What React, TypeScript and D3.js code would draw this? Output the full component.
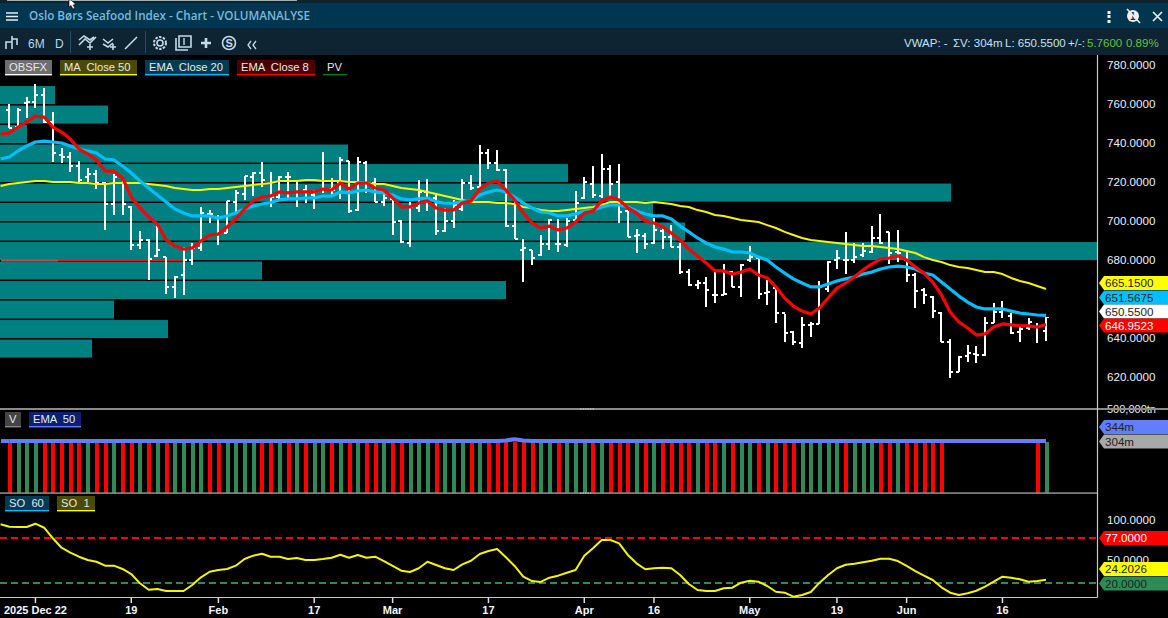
import React from "react";
import * as d3 from "d3";

// ---------- data ----------
const highs = [760,758,763.6,770.3,768.2,755.9,737.4,735.4,730.8,727.2,726.2,720,724.1,722.6,707.7,694.9,690.8,697.4,681.5,671.8,686.7,688.7,707.2,705.6,703.1,710.3,715.9,723.1,725.1,730.3,725.1,723.1,725.1,720,718.5,715.9,735.4,722,732.8,730.8,732.8,730.8,722,715.9,712.3,700.5,709.8,721,721.5,713.3,706.7,710.8,721.5,723.6,739,736.9,736.4,726.7,709.8,690.8,685.1,692.8,701,701,701.5,715.4,722.6,728.2,734.4,728.7,729.2,705.1,695.9,693.8,701.5,696.9,697.9,688.7,675.4,669.7,671.3,674.4,677.9,674.4,677.9,687.2,681,669.7,666.2,652.3,643.6,650.8,648.2,669.2,679.5,685.1,694.4,688.7,688.7,697.4,703.6,694.4,695.4,684.1,673.3,665.6,661.5,653.3,639.5,630.8,636.4,635.9,650.8,657.9,659,652.8,646.7,650.3,647.7,650.8];
const lows = [747.7,748.2,752.8,758,750.3,730.3,729.7,725.1,720,720,716.4,695.4,703.1,703.1,685.1,685.6,669.7,681.5,662.6,660.5,662.1,677.4,684.6,699,687.7,693.8,704.1,710.8,712.8,717.4,707.2,710.8,711.3,707.2,709.2,706.2,714.4,712.3,711.3,704.1,705.1,714.4,709.8,707.7,692.8,688.7,686.7,704.6,705.1,692.8,694.4,696.4,705.1,715.9,716.9,726.7,725.6,696.9,690.8,668.7,677.4,682.1,685.1,684.1,686.7,700.5,711.3,711.8,711.8,712.3,699,691.8,683.6,685.6,688.2,685.6,686.7,672.8,666.7,665.1,655.9,657.9,662.1,666.2,661,679,660,656.9,647.7,638,636.4,634.9,640.5,647.2,663.6,675.4,672.8,678.5,681.5,683.6,688.2,677.9,679,668.7,655.4,657.4,650.3,638,619.5,622.6,627.7,627.2,630.8,647.7,650.3,642.1,638,644.1,637.4,638.5];
const opens = [757,748.2,760.5,761,764.6,750.8,733.8,732.8,728.2,722.6,724.1,719.5,708.7,722.6,707.2,687.7,690.3,682.1,681.5,666.2,672.3,680,686.2,703.6,701.5,693.8,709.8,713.8,722.6,724.6,712.3,712.3,722.6,714.9,715.9,713.3,715.9,716.4,719.5,730.8,705.6,729.7,719.5,709.8,711.3,700,688.7,706.7,714.9,711.8,694.9,700,706.2,719.5,717.4,734.9,729.7,726.2,697.4,685.1,685.1,682.6,688.2,688.2,687.7,700.5,711.8,719,712.8,726.7,720,705.1,692.3,692.3,688.7,694.9,691.8,686.7,673.8,667.2,668.2,662.1,662.1,673.8,666.2,680,681,663.1,665.6,652.8,643.1,637.4,646.7,647.2,665.1,680,680,680,682.6,684.1,691.3,694.4,684.1,680,672.3,664.6,661,652.8,638,622.6,630.8,631.8,631.3,647.7,653.3,651.3,643.1,645.1,645.6,643.6];
const closes = [747.7,757,761,764.6,750.8,734.9,732.8,728.2,721,724.1,719.5,708.7,722.6,708.7,687.7,690.3,680.5,685.1,666.2,671.3,680,686.2,704.1,703.6,693.8,710.3,714.4,723.1,724.6,721,712.3,722.6,722.6,714.9,714.9,714.9,716.4,715.9,731.3,705.1,730.3,719.5,709.8,711.8,699.5,689.2,707.2,714.9,711.8,694.9,700,708.2,719.5,716.9,734.9,729.7,726.2,697.4,690.8,686.2,681,688.2,700.5,688.2,700,709.2,720,713.3,726.7,719,704.6,691.8,692.8,688.2,695.4,691.8,686.7,673.8,667.2,668.2,664.6,662.1,662.6,666.2,677.4,681.5,662.6,663.6,652.8,642.6,638,646.7,647.2,666.2,679,681,680,681.5,684.6,691.3,688.7,683.6,683.6,672.3,664.1,662.1,653.8,638,622.6,630.3,632.3,631.3,647.7,653.3,654.9,642.6,644.6,648.2,645.6,650.55];

// the three overlays start one step before the first bar, at the chart's left edge
const ma50 = [717.9,719,719.5,720,720.5,720.5,720,720,720,719.5,719.5,719,719,719.5,719.5,719.5,719.5,719,718.5,717.9,716.9,716.4,715.9,715.9,716.4,716.4,716.9,717.4,717.9,718.5,719,719.5,720.5,720.5,720.5,721,721,720.5,720.5,720.5,720,720,719.5,719,719,717.9,716.9,716.4,715.9,714.9,713.8,712.8,711.8,710.8,709.8,709.8,709.8,709.2,709.2,708.7,707.2,706.7,705.6,705.1,705.1,705.6,706.2,706.7,707.2,708.2,709.8,709.8,709.8,709.8,709.2,709.8,709.2,708.7,707.7,707.2,705.6,704.6,703.1,702.6,701.5,700.5,700,699.5,697.9,696.4,694.4,692.8,691.3,690.3,689.7,689.2,688.7,688.2,687.7,687.2,687.2,686.7,686.2,685.6,684.6,683.6,681.5,680,679,677.4,676.4,675.9,674.9,673.8,673.8,672.8,670.8,669.2,668.2,666.7,665.15];
const ema20 = [731.8,732.8,735.9,738.5,740.5,741,740.5,740,738.5,736.9,735.9,734.9,731.8,731.3,728.2,724.6,720.5,716.9,713.3,709.8,706.2,704.1,702.6,702.6,702.6,701.5,702.6,704.1,706.2,707.7,708.7,709.5,710.8,711.3,711.3,711.8,711.8,712.8,712.8,714.9,714.4,715.4,715.9,714.9,714.4,713.3,711.3,710.8,711.3,711.8,709.8,709.2,709.2,709.8,710.3,713.3,714.9,715.9,714.9,712.3,709.2,706.7,704.6,704.1,702.6,702.6,703.6,705.1,705.6,707.2,708.2,708.2,707.2,705.1,703.6,702.6,702.6,701,697.4,694.4,691.3,688.7,686.7,685.6,684.1,684.1,683.6,681.5,680,676.4,673.3,670.3,668.2,666.2,666.2,667.7,669.2,670.3,671.3,672.8,673.8,675.4,676.4,676.9,676.4,675.4,673.3,672.3,668.7,665.1,661.5,658.4,655.9,654.9,654.9,654.9,653.8,652.8,652.3,651.8,651.57];
const ema8 = [744.6,745.1,748.2,750.8,753.8,753.3,748.2,745.6,742,736.9,734.4,731.3,725.6,725.6,722,712.3,706.7,702.1,698.5,690.3,687.2,685.6,686.2,689.7,692.8,693.3,696.9,701,706.2,710.3,712.3,712.8,714.9,714.4,714.9,714.9,714.9,716.4,715.9,719.5,716.4,719.5,719.5,716.9,715.9,711.8,707.2,707.2,709.2,710.3,706.7,705.6,705.6,709.2,710.3,716.4,719.5,720.5,715.9,710.8,704.1,699,696.4,697.4,695.4,696.4,699.5,704.1,705.1,710.3,712.3,710.8,706.7,704.1,700,699,696.9,693.8,690.3,685.6,682.1,678.5,674.4,674.4,672.8,673.8,675.4,672.3,670.8,666.2,660.5,656.4,653.8,652.3,655.4,660.5,665.6,668.2,671.3,674.9,677.9,680.5,681,682.1,680,676.4,673.3,668.7,662.1,653.3,648.2,645.1,641.5,642.1,645.6,647.2,646.7,646.2,646.2,645.6,646.95];
const so1 = [94.5,91.5,91.1,91.1,95.3,90.2,76.8,64.8,58.5,53.4,49.2,47,42,42,37.8,31.4,19.6,11.5,12.4,9.8,9.8,9.8,17.4,27.2,34.3,36.5,37.8,42,50.5,54.7,57.2,53.4,53.4,50.5,51.7,49.2,49.2,50.5,52.1,55.9,52.1,55.6,52.1,53.4,47.9,41.6,35.6,34,38.7,47,42.9,38.7,36.5,43.7,48.3,56.8,60.6,63.2,52.6,41.6,28,22.5,21.3,26.7,29.3,33.1,36.5,54.7,64.1,74.6,74.6,70.4,55.6,45,37.4,38.7,39.4,38.7,30.2,18.7,11.1,9.8,9.8,13.3,14,20.4,22.9,21.6,16.2,8.9,7.7,2.6,4.8,8.6,20.4,30.2,38.7,43.2,44.5,46.3,48.3,50.9,50.9,47.9,41.6,35.2,29.3,23.8,14.5,7.7,4.8,6.9,10.2,15.3,21.6,28,26.7,24.7,21.6,22.5,24.2];

// R = down day, G = up day, - = no volume bar drawn
const volumeSides = "RGGGRRRRRGRRGRRGRGRGGGGRRGGGGRRGRGRGGRGRGRRGRRGGGRGGGRGRRRRRRGGRGGGRGRRRGRGRRRRGRRGRGGRGRRRGGGGGRGGGRRGRRRRR----------RG";
const volumeLevel = 304;
const volumeEma = 344;
const volumeEmaPeak: Record<number, number> = { 57: 400, 58: 510, 59: 400 };

// volume-by-price: one bucket per 10 index points
const profileTop = 769.2;
const profileStep = 10;
const profileAmounts = [55, 108, 27, 348, 568, 951, 653, 685, 1098, 262, 506, 114, 168, 92];

const priceTicks = [780, 760, 740, 720, 700, 680, 640, 620];
const dateTicks: [string, number][] = [["2025 Dec 22", 3], ["19", 14], ["Feb", 24], ["17", 35], ["Mar", 44], ["17", 55], ["Apr", 66], ["16", 74], ["May", 85], ["19", 95], ["Jun", 103], ["16", 114]];
const priceTags: [string, string, string, number][] = [["665.1500", "#ffff00", "#222", 283], ["651.5675", "#00bfff", "#222", 297.5], ["650.5500", "#ffffff", "#222", 311.5], ["646.9523", "#ff0000", "#fff", 325.5]];
const statusLabels: [string, number, string][] = [["VWAP: -", 904, "#c8e0f0"], ["ΣV: 304m", 953, "#c8e0f0"], ["L: 650.5500", 1005, "#c8e0f0"], ["+/-:", 1068, "#c8e0f0"], ["5.7600", 1087, "#66c23c"], ["0.89%", 1126, "#66c23c"]];
const chips: [string, number, number, number, string, string][] = [
  ["OBSFX", 5, 52, 60, "#6e6e6e", "#ffffff"],
  ["MA  Close 50", 60, 137, 60, "#4a4a00", "#ffff00"],
  ["EMA  Close 20", 145, 229, 60, "#003b55", "#00bfff"],
  ["EMA  Close 8", 237, 315, 60, "#4a0000", "#ff0000"],
  ["PV", 323, 347, 60, "#000000", "#0a7a0a"],
  ["V", 5, 21, 412, "#444444", "#888888"],
  ["EMA  50", 29, 81, 412, "#0a2070", "#5f7fff"],
  ["SO  60", 5, 49, 496, "#003b55", "#00bfff"],
  ["SO  1", 57, 95, 496, "#4a4a00", "#ffff00"],
];

const W = 1168, H = 618, AXIS = 1097.5;
const x = d3.scaleLinear().domain([0, 119]).range([9.3, 1046]);
const y = d3.scaleLinear().domain([780, 620]).range([65, 377]);
const yVol = d3.scaleLog().domain([304, 500000]).range([441.6, 409]);
const ySo = d3.scaleLinear().domain([100, 0]).range([520, 598.75]);
const xProfile = d3.scaleLinear().domain([0, 1098]).range([0, 1098]);

const SANS = "'Liberation Sans', Arial, sans-serif";
const priceLine = d3.line<number>().x((_, i) => x(i - 1)).y((d) => y(d));
const soLine = d3.line<number>().x((_, i) => x(i - 1)).y((d) => ySo(d));
const volEmaValues = opens.map((_, i) => volumeEmaPeak[i] ?? volumeEma);
const volEmaLine = d3.line<number>().x((_, i) => x(i)).y((d) => yVol(d));

function Tag({ text, fill, color, cy }: { text: string; fill: string; color: string; cy: number }) {
  const p = d3.path();
  p.moveTo(1099, cy);
  p.lineTo(1104, cy - 7);
  p.lineTo(1168, cy - 7);
  p.lineTo(1168, cy + 7);
  p.lineTo(1104, cy + 7);
  p.closePath();
  return (
    <g>
      <path d={p.toString()} fill={fill} />
      <text x={1105} y={cy + 4.2} fontFamily={SANS} fontSize={11.6} fill={color}>{text}</text>
    </g>
  );
}

function Toolbar() {
  const c = "#c4dbe8";
  return (
    <g fill="none" stroke={c} strokeWidth={1.6}>
      <path d="M6 49V42H12V36M12 36V49M12 39H17V45" />
      <path d="M79 45L85 39L90 43L96 37M79 40L84 36L90 40L94 37" />
      <path d="M87 47H93M90 44V50" />
      <path d="M103 39L108 43L113 39M103 44L108 47L113 43" />
      <path d="M110 47H116M113 44V50" />
      <path d="M125 49L137 37" />
      <circle cx={160} cy={43} r={3} />
      <circle cx={160} cy={43} r={6} strokeDasharray="2.4 1.4" strokeWidth={2} />
      <path d="M176 38V50H188M179 36H191V47H179Z" />
      <path d="M184 38V45" strokeWidth={1.4} />
      <path d="M201 43H211M206 38V48" strokeWidth={2.6} />
      <circle cx={229} cy={43} r={6.5} />
      <text x={225.5} y={47} fontFamily={SANS} fontSize={11} fontWeight={700} fill={c} stroke="none">S</text>
      <path d="M251 41L248 45L251 49M256 41L253 45L256 49" strokeWidth={1.3} />
    </g>
  );
}

export default function App() {
  return (
    <svg width={W} height={H} viewBox={`0 0 ${W} ${H}`} style={{ position: "absolute", left: 0, top: 0, display: "block", background: "#000" }}>
      {/* header */}
      <rect x={0} y={0} width={W} height={3} fill="#11222c" />
      <rect x={7} y={0} width={290} height={1} fill="#9fb0b8" />
      <rect x={0} y={3} width={W} height={25} fill="#00364f" />
      <rect x={0} y={28} width={W} height={27} fill="#0e2433" />
      <path d="M6 13H18M6 16.5H18M6 20H18" stroke="#e8f0f4" strokeWidth={1.6} />
      <text x={29} y={20} fontFamily="'Open Sans', sans-serif" fontSize={12} fontWeight={600} fill="#7fb8d8" textLength={281} lengthAdjust="spacingAndGlyphs">Oslo Børs Seafood Index - Chart - VOLUMANALYSE</text>
      <path d="M69 0L69 7L71 5.5L73 9L75 8L73 5L76 4.5L71 0Z" fill="#fff" stroke="#000" strokeWidth={0.6} />
      <rect x={1107.5} y={11} width={3} height={3} fill="#eee" />
      <rect x={1107.5} y={15} width={3} height={3} fill="#eee" />
      <rect x={1107.5} y={20} width={3} height={3} fill="#eee" />
      <circle cx={1133} cy={16} r={6} fill="#eee" />
      <text x={1130} y={20} fontFamily={SANS} fontSize={10} fontWeight={700} fill="#00364f">1</text>
      <path d="M1127 9L1140 23" stroke="#eee" strokeWidth={1.6} />
      <path d="M1153 12L1162 21M1162 12L1153 21" stroke="#e8eef2" strokeWidth={1.7} />

      {/* toolbar */}
      <Toolbar />
      <text x={28} y={48} fontFamily={SANS} fontSize={12} fill="#b8d8e8">6M</text>
      <text x={55} y={48} fontFamily={SANS} fontSize={12} fill="#b8d8e8">D</text>
      <path d="M70.5 31V53M145.5 31V53" stroke="#1a5070" strokeWidth={1} />
      {statusLabels.map(([label, lx, color]) => (
        <text key={label} x={lx} y={47} fontFamily={SANS} fontSize={11.5} fill={color}>{label}</text>
      ))}

      {/* volume by price */}
      {profileAmounts.map((amount, k) => {
        const top = y(profileTop - profileStep * k);
        return <rect key={k} x={0} y={top} width={xProfile(amount)} height={18} fill="#008080" />;
      })}
      <path d={`M1 ${y(680) + 0.5}H58`} stroke="#c84a4a" strokeWidth={2} />
      <path d={`M58 ${y(680) + 0.3}H183`} stroke="#ff1010" strokeWidth={1.3} />

      {/* OHLC bars */}
      <g stroke="#ffffff" shapeRendering="crispEdges">
        {opens.map((o, i) => {
          const cx = Math.round(x(i));
          return (
            <g key={i}>
              <path d={`M${cx} ${y(highs[i])}V${y(lows[i])}`} strokeWidth={2} />
              <path d={`M${cx - 3} ${y(o)}H${cx}`} strokeWidth={1.4} />
              <path d={`M${cx} ${y(closes[i])}H${cx + 3}`} strokeWidth={1.4} />
            </g>
          );
        })}
      </g>

      {/* overlays */}
      <path d={priceLine(ma50) ?? ""} fill="none" stroke="#f5f500" strokeWidth={2} strokeLinejoin="round" />
      <path d={priceLine(ema20) ?? ""} fill="none" stroke="#00bfff" strokeWidth={3.2} strokeLinejoin="round" />
      <path d={priceLine(ema8) ?? ""} fill="none" stroke="#ff0000" strokeWidth={3.2} strokeLinejoin="round" />

      {/* volume pane */}
      {Array.from(volumeSides).map((side, i) =>
        side === "-" ? null : (
          <rect key={i} x={Math.round(x(i) - 1.5)} y={yVol(volumeLevel)} width={4} height={493 - yVol(volumeLevel)} fill={side === "R" ? "#ff0000" : "#2e8b57"} shapeRendering="crispEdges" />
        )
      )}
      <path d={`M1 ${yVol(volumeEma)}H${x(0)}`} stroke="#5f7fff" strokeWidth={4} />
      <path d={volEmaLine(volEmaValues) ?? ""} fill="none" stroke="#5f7fff" strokeWidth={4} strokeLinejoin="round" />

      {/* stochastic pane */}
      <path d={`M0 ${ySo(77)}H${AXIS}`} stroke="#ff0000" strokeWidth={2} strokeDasharray="7 4" />
      <path d={`M0 ${ySo(20)}H${AXIS}`} stroke="#2e8b57" strokeWidth={2} strokeDasharray="7 4" />
      <path d={soLine(so1) ?? ""} fill="none" stroke="#f5f500" strokeWidth={2} strokeLinejoin="round" />

      {/* right axis labels */}
      {priceTicks.map((t) => (
        <text key={t} x={1107} y={y(t) + 4.2} fontFamily={SANS} fontSize={11.6} fill="#e8f0ff">{t.toFixed(4)}</text>
      ))}
      <text x={1107} y={413} fontFamily={SANS} fontSize={11} fill="#e8f0ff">500,000tn</text>
      <text x={1107} y={ySo(100) + 4.2} fontFamily={SANS} fontSize={11.6} fill="#e8f0ff">100.0000</text>
      <text x={1107} y={ySo(50) + 4.2} fontFamily={SANS} fontSize={11.6} fill="#e8f0ff">50.0000</text>

      {/* pane frames */}
      <rect x={0} y={408} width={W} height={2} fill="#8a8a8a" />
      <rect x={0} y={492.3} width={AXIS} height={1.6} fill="#8a8a8a" />
      <path d={`M${AXIS} 55V597.5`} stroke="#c8c8c8" strokeWidth={1.2} />
      <path d={`M0 597.5H${AXIS}`} stroke="#c8c8c8" strokeWidth={1.2} />
      <path d="M580 409H594M580 493H591" stroke="#d0d0d0" strokeWidth={1} strokeDasharray="1.5 1" />

      {/* date axis */}
      {dateTicks.map(([label, i], k) => (
        <g key={k}>
          <path d={`M${x(i)} 597.5V603`} stroke="#e0e0e0" strokeWidth={1.5} />
          <text x={x(i)} y={614} textAnchor="middle" fontFamily={SANS} fontSize={11} fontWeight={700} fill="#f4f8ff">{label}</text>
        </g>
      ))}

      {/* legend chips */}
      {chips.map(([label, x0, x1, top, bg, line]) => (
        <g key={label}>
          <rect x={x0} y={top} width={x1 - x0} height={14} fill={bg} />
          <rect x={x0} y={top + 14} width={x1 - x0} height={1.4} fill={line} />
          <text x={x0 + 4} y={top + 11} fontFamily={SANS} fontSize={11.2} fill="#e8e8e8" xmlSpace="preserve">{label}</text>
        </g>
      ))}

      {/* value tags */}
      {priceTags.map(([text, fill, color, cy]) => (
        <Tag key={text} text={text} fill={fill} color={color} cy={cy} />
      ))}
      <Tag text="344m" fill="#5f7fff" color="#222" cy={427} />
      <Tag text="304m" fill="#a8a8a8" color="#222" cy={441.5} />
      <Tag text="77.0000" fill="#ff0000" color="#fff" cy={538} />
      <Tag text="24.2026" fill="#ffff00" color="#222" cy={569} />
      <Tag text="20.0000" fill="#2e8b57" color="#222" cy={583.5} />
    </svg>
  );
}
